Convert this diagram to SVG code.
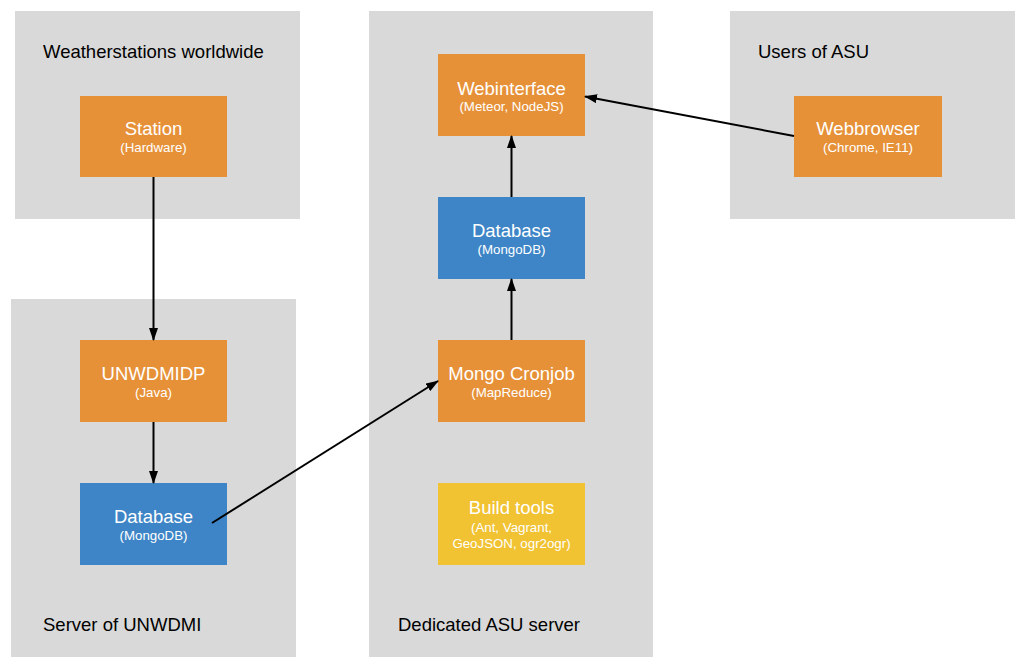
<svg xmlns="http://www.w3.org/2000/svg" width="1028" height="670" viewBox="0 0 1028 670">
<defs>
<style>
.grp{fill:#d9d9d9}
.gt{font-family:"Liberation Sans",Arial,sans-serif;font-size:18.5px;fill:#000}
.or{fill:#e69138}
.bl{fill:#3d85c6}
.ye{fill:#f1c232}
.m{font-family:"Liberation Sans",Arial,sans-serif;font-size:18.5px;fill:#fff;text-anchor:middle}
.s{font-family:"Liberation Sans",Arial,sans-serif;font-size:13.3px;fill:#fff;text-anchor:middle}
.c{stroke:#000;stroke-width:2;fill:none;marker-end:url(#ah)}
</style>
<marker id="ah" markerWidth="13" markerHeight="9" refX="12" refY="4.5" orient="auto" markerUnits="userSpaceOnUse">
<path d="M0,0 L13,4.5 L0,9 Z" fill="#000"/>
</marker>
</defs>
<rect width="1028" height="670" fill="#fff"/>
<g id="group-weatherstations">
<rect class="grp" x="15" y="11" width="285" height="208"/>
<text class="gt" x="43" y="58">Weatherstations worldwide</text>
</g>
<g id="group-unwdmi">
<rect class="grp" x="11" y="299" width="285" height="358"/>
<text class="gt" x="43" y="631">Server of UNWDMI</text>
</g>
<g id="group-asu-server">
<rect class="grp" x="369" y="11" width="284" height="646"/>
<text class="gt" x="398" y="631">Dedicated ASU server</text>
</g>
<g id="group-users">
<rect class="grp" x="730" y="11" width="285" height="208"/>
<text class="gt" x="758" y="58">Users of ASU</text>
</g>
<g id="node-station">
<rect class="or" x="80" y="96" width="147" height="81"/>
<text class="m" x="153.5" y="135">Station</text>
<text class="s" x="153.5" y="152">(Hardware)</text>
</g>
<g id="node-unwdmidp">
<rect class="or" x="80" y="340" width="147" height="82"/>
<text class="m" x="153.5" y="380">UNWDMIDP</text>
<text class="s" x="153.5" y="397">(Java)</text>
</g>
<g id="node-database-unwdmi">
<rect class="bl" x="80" y="483" width="147" height="82"/>
<text class="m" x="153.5" y="523">Database</text>
<text class="s" x="153.5" y="540">(MongoDB)</text>
</g>
<g id="node-webinterface">
<rect class="or" x="438" y="54" width="147" height="82"/>
<text class="m" x="511.5" y="95">Webinterface</text>
<text class="s" x="511.5" y="111">(Meteor, NodeJS)</text>
</g>
<g id="node-database-asu">
<rect class="bl" x="438" y="197" width="147" height="82"/>
<text class="m" x="511.5" y="237">Database</text>
<text class="s" x="511.5" y="254">(MongoDB)</text>
</g>
<g id="node-cronjob">
<rect class="or" x="438" y="340" width="147" height="82"/>
<text class="m" x="511.5" y="380">Mongo Cronjob</text>
<text class="s" x="511.5" y="397">(MapReduce)</text>
</g>
<g id="node-buildtools">
<rect class="ye" x="438" y="483" width="147" height="82"/>
<text class="m" x="511.5" y="514">Build tools</text>
<text class="s" x="511.5" y="532">(Ant, Vagrant,</text>
<text class="s" x="511.5" y="548">GeoJSON, ogr2ogr)</text>
</g>
<g id="node-webbrowser">
<rect class="or" x="794" y="96" width="148" height="81"/>
<text class="m" x="868" y="135">Webbrowser</text>
<text class="s" x="868" y="152">(Chrome, IE11)</text>
</g>
<g id="connectors">
<line class="c" x1="153.5" y1="177" x2="153.5" y2="340"/>
<line class="c" x1="153.5" y1="422" x2="153.5" y2="483"/>
<line class="c" x1="212" y1="523" x2="438" y2="381"/>
<line class="c" x1="511.5" y1="340" x2="511.5" y2="279"/>
<line class="c" x1="511.5" y1="197" x2="511.5" y2="136"/>
<line class="c" x1="794" y1="136" x2="585" y2="96.5"/>
</g>
</svg>
